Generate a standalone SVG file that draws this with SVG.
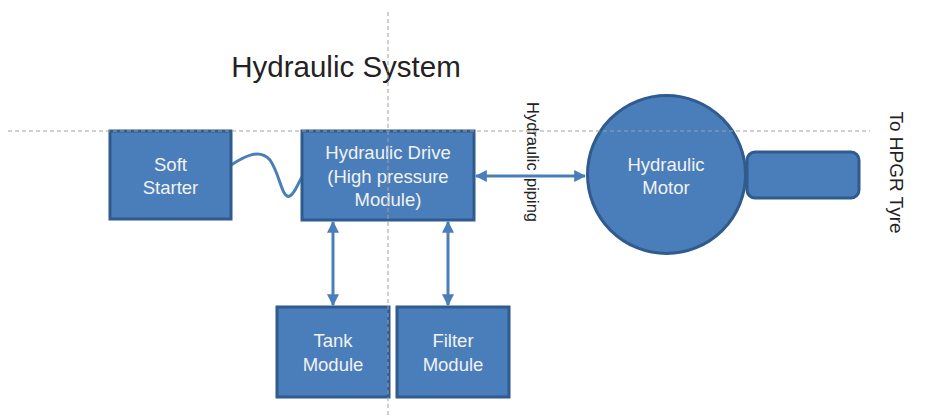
<svg xmlns="http://www.w3.org/2000/svg" width="928" height="418" viewBox="0 0 928 418">
<style>
.box{fill:#4a7ebb;stroke:#2f5b8e;stroke-width:3}
.lbl{font-family:"Liberation Sans",Arial,sans-serif;font-size:18.5px;fill:#f2f2f2;text-anchor:middle}
.conn{stroke:#4a7ebb;stroke-width:3;fill:none}
.guide{stroke:#a0a0a0;stroke-width:1;stroke-dasharray:4 3;fill:none}
.side{font-family:"Liberation Sans",Arial,sans-serif;fill:#222}
</style>
<defs>
<marker id="ah" viewBox="0 0 10 10" refX="9" refY="5" markerWidth="4" markerHeight="4" orient="auto-start-reverse">
<path d="M0,0 L10,5 L0,10 z" fill="#4a7ebb"/>
</marker>
</defs>
<rect width="928" height="418" fill="#ffffff"/>
<text x="346" y="77" class="side" font-size="29.5" text-anchor="middle" fill="#111">Hydraulic System</text>
<g id="connectors">
<path class="conn" d="M231,165 C245,156 260,148 270,160 C280,174 282,200 290,196 C296,192 298,182 303,176" stroke="#2f5b8e" stroke-width="3.5"/>
<line class="conn" x1="476" y1="176" x2="585" y2="176" marker-start="url(#ah)" marker-end="url(#ah)"/>
<line class="conn" x1="333" y1="222" x2="333" y2="305" marker-start="url(#ah)" marker-end="url(#ah)"/>
<line class="conn" x1="448" y1="222" x2="448" y2="305" marker-start="url(#ah)" marker-end="url(#ah)"/>
</g>
<g id="soft-starter">
<rect class="box" x="110" y="131" width="121" height="88"/>
<text class="lbl" x="170.5" y="171">Soft</text>
<text class="lbl" x="170.5" y="194">Starter</text>
</g>
<g id="hydraulic-drive">
<rect class="box" x="302" y="131" width="172" height="89"/>
<text class="lbl" x="388" y="159">Hydraulic Drive</text>
<text class="lbl" x="388" y="183">(High pressure</text>
<text class="lbl" x="388" y="206">Module)</text>
</g>
<g id="tank-module">
<rect class="box" x="277" y="307" width="112" height="90"/>
<text class="lbl" x="333" y="347">Tank</text>
<text class="lbl" x="333" y="371">Module</text>
</g>
<g id="filter-module">
<rect class="box" x="397" y="307" width="112" height="90"/>
<text class="lbl" x="453" y="347">Filter</text>
<text class="lbl" x="453" y="371">Module</text>
</g>
<g id="hydraulic-motor">
<circle class="box" cx="666.5" cy="174.5" r="79"/>
<text class="lbl" x="666" y="171">Hydraulic</text>
<text class="lbl" x="666" y="194">Motor</text>
</g>
<g id="output-shaft">
<rect class="box" x="747" y="152" width="112" height="46" rx="8"/>
</g>
<text class="side" font-size="16.5" transform="translate(527,0) rotate(90)" x="102" y="0">Hydraulic <tspan x="178">piping</tspan></text>
<text class="side" font-size="19" transform="translate(890,172.5) rotate(90)" text-anchor="middle">To HPGR Tyre</text>
<g id="guides">
<line class="guide" x1="8" y1="131" x2="870" y2="131"/>
<line class="guide" x1="388" y1="12" x2="388" y2="418"/>
</g>
</svg>
